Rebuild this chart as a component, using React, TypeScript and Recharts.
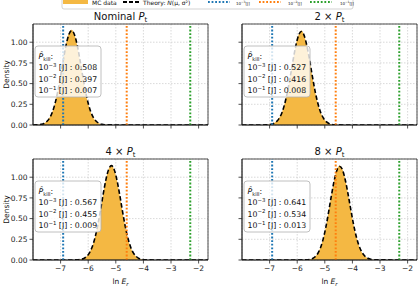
import React from "react";
import {
  ComposedChart,
  Area,
  Line,
  XAxis,
  YAxis,
  CartesianGrid,
  ReferenceLine,
  ReferenceArea,
} from "recharts";

const FONT = "DejaVu Sans, Verdana, sans-serif";

// ---------- data ----------
const panelMultipliers = ["Nominal", "2 ×", "4 ×", "8 ×"];
const thresholdsJ = [1e-3, 1e-2, 1e-1];
const thresholdExps = ["−3", "−2", "−1"];
const thresholdColors = ["#1f77b4", "#ff7f0e", "#2ca02c"];

const pKillNominal = [0.508, 0.397, 0.007];
const pKill2x = [0.527, 0.416, 0.008];
const pKill4x = [0.567, 0.455, 0.009];
const pKill8x = [0.641, 0.534, 0.013];

const xTicks = [-7, -6, -5, -4, -3, -2];
const yTicks = [0, 0.25, 0.5, 0.75, 1.0];

const xNominal = [-8.0, -7.9, -7.8, -7.7, -7.6, -7.5, -7.4, -7.3, -7.2, -7.1, -7.0, -6.9, -6.8, -6.7, -6.6, -6.5, -6.4, -6.3, -6.2, -6.1, -6.0, -5.9, -5.8, -5.7, -5.6, -5.5, -5.4, -5.3, -1.66];
const mcNominal = [0, 0, 0.002, 0.007, 0.02, 0.045, 0.09, 0.16, 0.27, 0.415, 0.6, 0.8, 0.98, 1.11, 1.15, 1.095, 0.96, 0.78, 0.58, 0.4, 0.255, 0.148, 0.08, 0.04, 0.017, 0.006, 0.002, 0, 0];
const thNominal = [0, 0.001, 0.003, 0.008, 0.019, 0.042, 0.084, 0.154, 0.262, 0.41, 0.593, 0.79, 0.968, 1.094, 1.14, 1.094, 0.968, 0.79, 0.593, 0.41, 0.262, 0.154, 0.084, 0.042, 0.019, 0.008, 0.003, 0.001, 0];

const x2x = [-8.0, -7.15, -7.05, -6.95, -6.85, -6.75, -6.65, -6.55, -6.45, -6.35, -6.25, -6.15, -6.05, -5.95, -5.85, -5.75, -5.65, -5.55, -5.45, -5.35, -5.25, -5.15, -5.05, -4.95, -4.85, -4.75, -4.65, -4.55, -1.66];
const mc2x = [0, 0, 0.003, 0.009, 0.021, 0.044, 0.087, 0.158, 0.265, 0.412, 0.595, 0.79, 0.965, 1.09, 1.14, 1.085, 0.955, 0.775, 0.58, 0.4, 0.255, 0.15, 0.082, 0.04, 0.018, 0.007, 0.002, 0, 0];
const th2x = [0, 0.001, 0.003, 0.008, 0.019, 0.041, 0.083, 0.152, 0.259, 0.406, 0.587, 0.782, 0.958, 1.083, 1.13, 1.083, 0.958, 0.782, 0.587, 0.406, 0.259, 0.152, 0.083, 0.041, 0.019, 0.008, 0.003, 0.001, 0];

const x4x = [-8.0, -6.46, -6.36, -6.26, -6.16, -6.06, -5.96, -5.86, -5.76, -5.66, -5.56, -5.46, -5.36, -5.26, -5.16, -5.06, -4.96, -4.86, -4.76, -4.66, -4.56, -4.46, -4.36, -4.26, -4.16, -4.06, -3.96, -3.86, -1.66];
const mc4x = [0, 0, 0.002, 0.008, 0.02, 0.043, 0.086, 0.157, 0.266, 0.414, 0.598, 0.795, 0.972, 1.1, 1.145, 1.09, 0.962, 0.783, 0.585, 0.402, 0.256, 0.15, 0.081, 0.04, 0.018, 0.007, 0.002, 0, 0];
const th4x = [0, 0.001, 0.003, 0.008, 0.019, 0.042, 0.084, 0.154, 0.262, 0.41, 0.593, 0.79, 0.968, 1.094, 1.14, 1.094, 0.968, 0.79, 0.593, 0.41, 0.262, 0.154, 0.084, 0.042, 0.019, 0.008, 0.003, 0.001, 0];

const x8x = [-8.0, -5.76, -5.66, -5.56, -5.46, -5.36, -5.26, -5.16, -5.06, -4.96, -4.86, -4.76, -4.66, -4.56, -4.46, -4.36, -4.26, -4.16, -4.06, -3.96, -3.86, -3.76, -3.66, -3.56, -3.46, -3.36, -3.26, -3.16, -1.66];
const mc8x = [0, 0, 0.002, 0.006, 0.016, 0.038, 0.08, 0.15, 0.258, 0.405, 0.59, 0.788, 0.965, 1.095, 1.14, 1.095, 0.972, 0.8, 0.608, 0.428, 0.28, 0.17, 0.095, 0.05, 0.024, 0.01, 0.004, 0.001, 0];
const th8x = [0, 0.001, 0.002, 0.006, 0.015, 0.036, 0.076, 0.145, 0.252, 0.4, 0.583, 0.78, 0.958, 1.085, 1.13, 1.09, 0.97, 0.8, 0.612, 0.432, 0.283, 0.172, 0.097, 0.051, 0.025, 0.011, 0.005, 0.002, 0];

// ---------- layout ----------
const X_DOMAIN: [number, number] = [-8.0, -1.66];
const Y_DOMAIN: [number, number] = [0, 1.22];
const PLOT_W = 175;
const PLOT_H = 101;
const Y_AXIS_W = 33;
const X_AXIS_H = 20;
const M_TOP = 2;
const M_RIGHT = 2;
const FILL = "#f4b843";
const AX = "#222";

const panels = [
  { title: panelMultipliers[0], x: xNominal, mc: mcNominal, th: thNominal, pk: pKillNominal, left: 33, top: 24, xl: false, yl: true },
  { title: panelMultipliers[1], x: x2x, mc: mc2x, th: th2x, pk: pKill2x, left: 242, top: 24, xl: false, yl: false },
  { title: panelMultipliers[2], x: x4x, mc: mc4x, th: th4x, pk: pKill4x, left: 33, top: 159, xl: true, yl: true },
  { title: panelMultipliers[3], x: x8x, mc: mc8x, th: th8x, pk: pKill8x, left: 242, top: 159, xl: true, yl: false },
];

const fmtX = (v: number) => (v < 0 ? "\u2212" + Math.abs(v) : String(v));

function Panel(p: typeof panels[number]) {
  const data = p.x.map((xv, i) => ({ x: xv, mc: p.mc[i], th: p.th[i] }));
  return (
    <div style={{ position: "absolute", left: p.left - Y_AXIS_W, top: p.top - M_TOP }}>
      <ComposedChart
        width={Y_AXIS_W + PLOT_W + M_RIGHT}
        height={M_TOP + PLOT_H + X_AXIS_H}
        data={data}
        margin={{ top: M_TOP, right: M_RIGHT, bottom: 0, left: 0 }}
      >
        <CartesianGrid stroke="#cfcfcf" strokeDasharray="1.5 1.5" strokeWidth={0.8} />
        <XAxis
          dataKey="x"
          type="number"
          domain={X_DOMAIN}
          ticks={xTicks}
          allowDataOverflow
          height={X_AXIS_H}
          tickSize={3.5}
          tickMargin={2}
          tickFormatter={(v: number) => (p.xl ? fmtX(v) : "")}
          tick={{ fontSize: 7.5, fill: AX, fontFamily: FONT }}
          stroke={AX}
          axisLine={{ stroke: AX, strokeWidth: 0.8 }}
          tickLine={{ stroke: AX, strokeWidth: 0.8 }}
        />
        <YAxis
          type="number"
          domain={Y_DOMAIN}
          ticks={yTicks}
          allowDataOverflow
          width={Y_AXIS_W}
          tickSize={3.5}
          tickMargin={2}
          tickFormatter={(v: number) => (p.yl ? v.toFixed(2) : "")}
          tick={{ fontSize: 7.5, fill: AX, fontFamily: FONT }}
          axisLine={{ stroke: AX, strokeWidth: 0.8 }}
          tickLine={{ stroke: AX, strokeWidth: 0.8 }}
        />
        <Area
          type="monotone"
          dataKey="mc"
          stroke="none"
          fill={FILL}
          fillOpacity={1}
          isAnimationActive={false}
        />
        <Line
          type="monotone"
          dataKey="th"
          stroke="#000"
          strokeWidth={1.6}
          strokeDasharray="4.5 2.5"
          dot={false}
          isAnimationActive={false}
        />
        {thresholdsJ.map((t, i) => (
          <ReferenceLine
            key={i}
            x={Math.log(t)}
            stroke={thresholdColors[i]}
            strokeWidth={2}
            strokeDasharray="1.8 1.8"
          />
        ))}
        <ReferenceArea
          x1={X_DOMAIN[0]}
          x2={X_DOMAIN[1]}
          y1={Y_DOMAIN[0]}
          y2={Y_DOMAIN[1]}
          fill="none"
          stroke={AX}
          strokeWidth={0.8}
        />
      </ComposedChart>
    </div>
  );
}

function Overlay() {
  const texts: React.ReactNode[] = [];
  panels.forEach((p, idx) => {
    const cx = p.left + PLOT_W / 2;
    const tb = p.top - 4;
    texts.push(
      <text key={"t" + idx} x={cx} y={tb} textAnchor="middle" fontSize={10} fill="#111" fontFamily={FONT}>
        {p.title + " "}
        <tspan fontStyle="italic">P</tspan>
        <tspan fontSize={7} dy={2}>t</tspan>
      </text>
    );
    if (p.yl) {
      const cy = p.top + PLOT_H / 2;
      texts.push(
        <text key={"y" + idx} x={0} y={0} transform={`translate(8.5, ${cy}) rotate(-90)`} textAnchor="middle" fontSize={7.5} fill="#111" fontFamily={FONT}>
          Density
        </text>
      );
    }
    if (p.xl) {
      texts.push(
        <text key={"x" + idx} x={cx} y={284} textAnchor="middle" fontSize={7.5} fill="#111" fontFamily={FONT}>
          {"ln "}
          <tspan fontStyle="italic">E</tspan>
          <tspan fontStyle="italic" fontSize={5.5} dy={1.5}>r</tspan>
        </text>
      );
    }
    const bx = p.left + 2;
    const by = p.top + 22;
    texts.push(
      <g key={"b" + idx}>
        <rect x={bx} y={by} width={66} height={51} rx={3} ry={3} fill="#fff" fillOpacity={0.8} stroke="#b0b0b0" strokeWidth={0.8} />
        <text x={bx + 3.5} y={by + 12.5} fontSize={7.8} fill="#111" fontFamily={FONT}>
          <tspan fontStyle="italic">{"P\u0302"}</tspan>
          <tspan fontSize={5.2} dy={2}>kill</tspan>
          <tspan dy={-2}>:</tspan>
        </text>
        {p.pk.map((v, i) => (
          <text key={i} x={bx + 3.5} y={by + 24 + i * 11.5} fontSize={7.8} fill="#111" fontFamily={FONT}>
            10
            <tspan fontSize={5.4} dy={-3.2}>{thresholdExps[i]}</tspan>
            <tspan dy={3.2}>{" [J] : " + v.toFixed(3)}</tspan>
          </text>
        ))}
      </g>
    );
  });

  // legend (cropped at top of figure)
  const ly = 2;
  const legend = (
    <g key="legend" fontFamily={FONT}>
      <rect x={62} y={-14} width={291} height={23} rx={2} fill="#fff" fillOpacity={0.8} stroke="#c8c8c8" strokeWidth={0.8} />
      <rect x={63} y={-4} width={25} height={8} fill={FILL} />
      <text x={92} y={5} fontSize={6} fill="#111">MC data</text>
      <line x1={123} y1={ly} x2={140} y2={ly} stroke="#000" strokeWidth={1.8} strokeDasharray="4 2" />
      <text x={143} y={5} fontSize={6} fill="#111">
        {"Theory: "}
        <tspan fontStyle="italic">N</tspan>
        {"(μ, σ²)"}
      </text>
      {thresholdColors.map((c, i) => (
        <g key={i}>
          <line x1={208 + i * 51} y1={ly} x2={230 + i * 51} y2={ly} stroke={c} strokeWidth={2} strokeDasharray="1.8 1.8" />
          <text x={236 + i * 52} y={4.5} fontSize={4} fill="#111">
            10
            <tspan fontSize={3} dy={-1.5}>{thresholdExps[i]}</tspan>
            <tspan dy={1.5}>[J]</tspan>
          </text>
        </g>
      ))}
    </g>
  );

  return (
    <svg width={419} height={286} style={{ position: "absolute", left: 0, top: 0, pointerEvents: "none" }}>
      {legend}
      {texts}
    </svg>
  );
}

export default function App() {
  return (
    <div style={{ position: "absolute", left: 0, top: 0, width: 419, height: 286, background: "#fff", overflow: "hidden", fontFamily: FONT }}>
      {panels.map((p, i) => (
        <Panel key={i} {...p} />
      ))}
      <Overlay />
    </div>
  );
}
